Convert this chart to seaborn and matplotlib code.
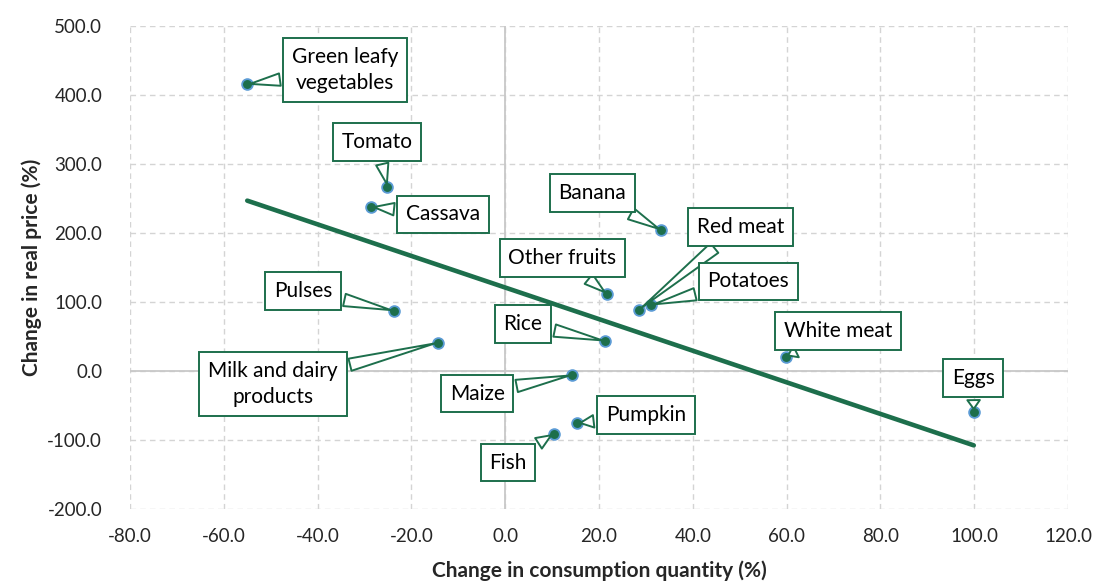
import numpy as np
import pandas as pd
import matplotlib.pyplot as plt
import seaborn as sns

# datos
foods = ['Green leafy\nvegetables', 'Tomato', 'Cassava', 'Pulses', 'Milk and dairy\nproducts',
         'Maize', 'Pumpkin', 'Fish', 'Banana', 'Other fruits', 'Red meat', 'Potatoes',
         'Rice', 'White meat', 'Eggs']
qty_change = [-55.0, -25.1, -28.6, -23.8, -14.4, 14.3, 15.4, 10.3, 33.3, 21.7, 28.6, 31.1, 21.3, 59.8, 99.9]
price_change = [415.5, 267.0, 238.0, 87.4, 41.0, -5.8, -75.8, -91.0, 204.0, 111.6, 89.0, 95.6, 43.5, 20.7, -59.0]

# posicion de las etiquetas (cajas) en coordenadas de datos
label_x = [-34.1, -27.3, -13.2, -43.1, -49.5, -6.0, 30.0, 0.6, 18.6, 12.2, 50.1, 51.8, 3.8, 71.0, 99.8]
label_y = [436, 332, 227, 116, -19, -33, -64, -133, 258, 164, 209, 130, 68, 58, -10]

df = pd.DataFrame({'food': foods, 'qty': qty_change, 'price': price_change})

green = '#1D6F4C'
blue_edge = '#5B9BD5'

sns.set_style('white')
plt.rcParams['font.family'] = ['Lato', 'DejaVu Sans']

fig, ax = plt.subplots(figsize=(10.97, 5.88), dpi=100)
fig.subplots_adjust(left=0.1185, right=0.9736, top=0.9558, bottom=0.1344)

# linea de tendencia (regresion lineal)
sns.regplot(data=df, x='qty', y='price', scatter=False, ci=None, truncate=True,
            line_kws={'color': green, 'lw': 3.3, 'solid_capstyle': 'round'}, ax=ax)

sns.scatterplot(data=df, x='qty', y='price', s=60, color=green, edgecolor=blue_edge,
                linewidth=1.3, zorder=5, ax=ax)

for name, x, y, lx, ly in zip(foods, qty_change, price_change, label_x, label_y):
    ax.annotate(name, xy=(x, y), xytext=(lx, ly), ha='center', va='center',
                fontsize=15, color='black', zorder=6, linespacing=1.4,
                bbox=dict(boxstyle='square,pad=0.42', fc='white', ec=green, lw=1.4),
                arrowprops=dict(arrowstyle='wedge,tail_width=0.6,shrink_factor=0.5',
                                fc='white', ec=green, lw=1.4, shrinkB=2))

ax.set_xlim(-80, 120)
ax.set_ylim(-200, 500)
ax.set_xticks(np.arange(-80, 121, 20))
ax.set_yticks(np.arange(-200, 501, 100))
ax.xaxis.set_major_formatter(lambda v, p: f'{v:.1f}')
ax.yaxis.set_major_formatter(lambda v, p: f'{v:.1f}')
ax.tick_params(labelsize=13.5, length=0)
ax.tick_params(axis='x', pad=14)
ax.tick_params(axis='y', pad=20)

ax.grid(True, ls=(0, (4, 3)), color='#D4D4D4', lw=1)
ax.axhline(0, color='#C8C8C8', lw=1.3, zorder=1)
ax.axvline(0, color='#C8C8C8', lw=1.3, zorder=1)
for s in ax.spines.values():
    s.set_visible(False)

ax.set_xlabel('Change in consumption quantity (%)', fontsize=15, fontweight='bold', labelpad=11)
ax.set_ylabel('Change in real price (%)', fontsize=15, fontweight='bold', labelpad=4)

plt.savefig('out.png', dpi=100)
